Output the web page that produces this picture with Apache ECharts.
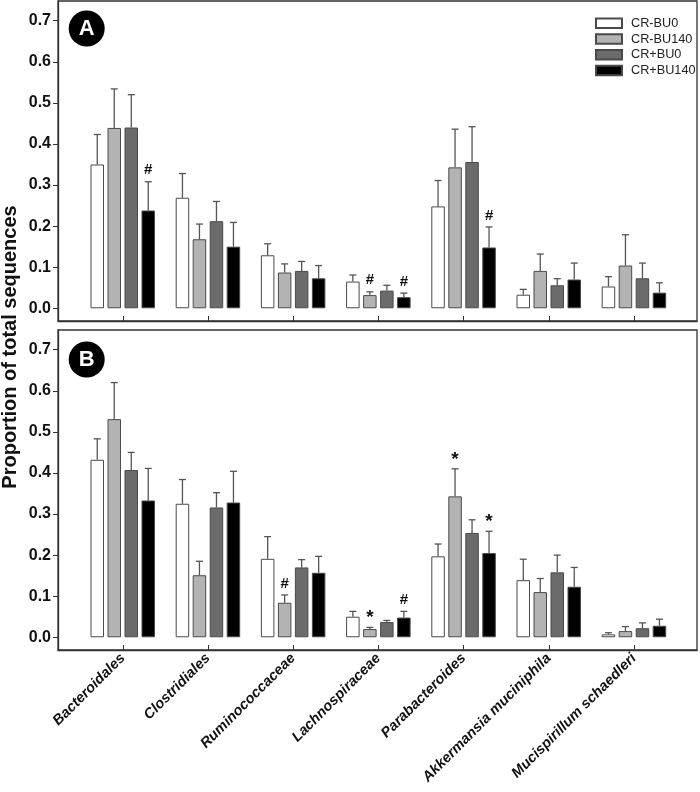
<!DOCTYPE html>
<html>
<head>
<meta charset="utf-8">
<script src="https://cdn.jsdelivr.net/npm/echarts@6/dist/echarts.min.js"></script>
<style>
html,body{margin:0;padding:0;background:#fff;}
#chart{width:700px;height:792px;}
</style>
</head>
<body>
<div id="chart"></div>
<script>
// ---------- data ----------
const categories = ['Bacteroidales','Clostridiales','Ruminococcaceae','Lachnospiraceae','Parabacteroides','Akkermansia muciniphila','Mucispirillum schaedleri'];
const groups = ['CR-BU0','CR-BU140','CR+BU0','CR+BU140'];
const yTicks = [0.0,0.1,0.2,0.3,0.4,0.5,0.6,0.7];

// Panel A means
const aMean_CRm_BU0   = [0.350,0.269,0.129,0.065,0.248,0.033,0.053];
const aMean_CRm_BU140 = [0.439,0.168,0.087,0.032,0.343,0.091,0.104];
const aMean_CRp_BU0   = [0.440,0.212,0.091,0.043,0.356,0.056,0.073];
const aMean_CRp_BU140 = [0.238,0.150,0.073,0.027,0.148,0.070,0.038];
// Panel A standard errors
const aSE_CRm_BU0   = [0.073,0.059,0.028,0.016,0.063,0.013,0.024];
const aSE_CRm_BU140 = [0.095,0.037,0.021,0.008,0.093,0.041,0.075];
const aSE_CRp_BU0   = [0.080,0.048,0.023,0.013,0.086,0.016,0.037];
const aSE_CRp_BU140 = [0.070,0.059,0.031,0.010,0.050,0.040,0.024];

// Panel B means
const bMean_CRm_BU0   = [0.432,0.325,0.191,0.050,0.197,0.139,0.007];
const bMean_CRm_BU140 = [0.531,0.151,0.084,0.020,0.343,0.110,0.015];
const bMean_CRp_BU0   = [0.407,0.316,0.170,0.037,0.254,0.158,0.022];
const bMean_CRp_BU140 = [0.333,0.328,0.157,0.048,0.205,0.123,0.028];
// Panel B standard errors
const bSE_CRm_BU0   = [0.051,0.059,0.054,0.013,0.030,0.051,0.004];
const bSE_CRm_BU140 = [0.089,0.034,0.019,0.004,0.067,0.033,0.011];
const bSE_CRp_BU0   = [0.043,0.036,0.019,0.004,0.032,0.042,0.013];
const bSE_CRp_BU140 = [0.078,0.076,0.040,0.015,0.053,0.047,0.016];

// significance marks: [category index, group index, symbol]
const aMarks = [[0,3,'#'],[3,1,'#'],[3,3,'#'],[4,3,'#']];
const bMarks = [[2,1,'#'],[3,1,'*'],[3,3,'#'],[4,1,'*'],[4,3,'*']];

// ---------- build ----------
const FONT = '"Liberation Sans", Arial, sans-serif';
const colors = ['#ffffff','#b3b3b3','#6b6b6b','#000000'];
const BAR_W = 13.5, BAR_GAP = 3.5;
const STEP = BAR_W + BAR_GAP;

const panels = [
  {means:[aMean_CRm_BU0,aMean_CRm_BU140,aMean_CRp_BU0,aMean_CRp_BU140],
   ses:[aSE_CRm_BU0,aSE_CRm_BU140,aSE_CRp_BU0,aSE_CRp_BU140], marks:aMarks},
  {means:[bMean_CRm_BU0,bMean_CRm_BU140,bMean_CRp_BU0,bMean_CRp_BU140],
   ses:[bSE_CRm_BU0,bSE_CRm_BU140,bSE_CRp_BU0,bSE_CRp_BU140], marks:bMarks}
];

const series = [];
panels.forEach((p, pi) => {
  groups.forEach((g, gi) => {
    series.push({
      name: g, type: 'bar', xAxisIndex: pi, yAxisIndex: pi,
      barWidth: BAR_W, barGap: (BAR_GAP / BAR_W * 100) + '%',
      itemStyle: {color: colors[gi], borderColor: '#4a4a4a', borderWidth: 1},
      emphasis: {disabled: true},
      data: p.means[gi].map((v, i) => [i, v]),
      z: 3
    });
  });
  // error bars
  const errData = [];
  groups.forEach((g, gi) => {
    p.means[gi].forEach((v, i) => errData.push([i, gi, v, p.ses[gi][i]]));
  });
  series.push({
    type: 'custom', xAxisIndex: pi, yAxisIndex: pi, silent: true, z: 2,
    encode: {x: 0, y: 2},
    data: errData,
    renderItem: function (params, api) {
      const cat = api.value(0), gi = api.value(1), m = api.value(2), se = api.value(3);
      const top = api.coord([cat, m + se]);
      const base = api.coord([cat, m]);
      const x = top[0] + (gi - 1.5) * STEP;
      const st = {stroke: '#555555', lineWidth: 1.3};
      return {type: 'group', children: [
        {type: 'line', shape: {x1: x, y1: base[1], x2: x, y2: top[1]}, style: st},
        {type: 'line', shape: {x1: x - 3.5, y1: top[1], x2: x + 3.5, y2: top[1]}, style: st}
      ]};
    }
  });
  // significance marks
  series.push({
    type: 'custom', xAxisIndex: pi, yAxisIndex: pi, silent: true, z: 4,
    encode: {x: 0, y: 2},
    data: p.marks.map(mk => [mk[0], mk[1], p.means[mk[1]][mk[0]] + p.ses[mk[1]][mk[0]]]),
    renderItem: function (params, api) {
      const mk = p.marks[params.dataIndex];
      const pt = api.coord([api.value(0), api.value(2)]);
      const x = pt[0] + (api.value(1) - 1.5) * STEP;
      const isStar = mk[2] === '*';
      return {type: 'text', style: {
        text: mk[2], x: x, y: pt[1] - (isStar ? 0 : 4),
        align: 'center', verticalAlign: 'bottom',
        font: 'bold ' + (isStar ? 19 : 15) + 'px ' + FONT,
        fill: '#111'
      }};
    }
  });
});

const tickIdx = categories.map((c, i) => i);
function makeX(pi) {
  return {
    type: 'value', gridIndex: pi, min: -0.76, max: 6.74,
    splitLine: {show: false},
    axisLine: {show: true, onZero: false, lineStyle: {color: '#333', width: 1.3}},
    axisTick: {show: true, inside: true, length: 5, customValues: tickIdx, lineStyle: {color: '#333', width: 1}},
    axisLabel: {
      show: pi === 1, customValues: tickIdx, rotate: 45, margin: 6,
      fontFamily: FONT, fontWeight: 'bold', fontStyle: 'italic',
      fontSize: 14.5, color: '#111',
      formatter: v => categories[Math.round(v)]
    }
  };
}
function makeY(pi) {
  return {
    type: 'value', gridIndex: pi, min: -0.031, max: 0.748,
    splitLine: {show: false},
    axisLine: {show: true, onZero: false, lineStyle: {color: '#333', width: 1.3}},
    axisTick: {show: true, inside: false, length: 5, customValues: yTicks, lineStyle: {color: '#333', width: 1}},
    axisLabel: {
      customValues: yTicks, margin: 7,
      fontFamily: FONT, fontWeight: 'bold',
      fontSize: 16, color: '#111',
      formatter: v => v.toFixed(1)
    }
  };
}

const option = {
  animation: false,
  backgroundColor: '#fff',
  grid: [
    {left: 58, right: 3, top: 1, height: 320, show: true, borderColor: '#333', borderWidth: 1.3},
    {left: 58, right: 3, top: 330, height: 320, show: true, borderColor: '#333', borderWidth: 1.3}
  ],
  xAxis: [makeX(0), makeX(1)],
  yAxis: [makeY(0), makeY(1)],
  legend: {
    data: groups, orient: 'vertical', left: 590, top: 10.5,
    itemWidth: 26, itemHeight: 9.5, itemGap: 0,
    icon: 'rect', selectedMode: false,
    textStyle: {fontFamily: FONT, fontSize: 12.7, color: '#222', lineHeight: 15.7, padding: [0,0,0,4]}
  },
  graphic: [
    {type: 'circle', shape: {cx: 86.7, cy: 28.5, r: 18}, style: {fill: '#000'}, silent: true},
    {type: 'text', x: 86.7, y: 29, style: {text: 'A', align: 'center', verticalAlign: 'middle', fill: '#fff', font: 'bold 22px ' + FONT}, silent: true},
    {type: 'circle', shape: {cx: 86.7, cy: 359.5, r: 18}, style: {fill: '#000'}, silent: true},
    {type: 'text', x: 86.7, y: 360, style: {text: 'B', align: 'center', verticalAlign: 'middle', fill: '#fff', font: 'bold 22px ' + FONT}, silent: true},
    {type: 'text', x: 10, y: 347, rotation: Math.PI / 2,
     style: {text: 'Proportion of total sequences', align: 'center', verticalAlign: 'middle', fill: '#111', font: 'bold 20px ' + FONT}, silent: true}
  ],
  series: series
};

const chart = echarts.init(document.getElementById('chart'), null, {renderer: 'canvas'});
chart.setOption(option);
</script>
</body>
</html>
